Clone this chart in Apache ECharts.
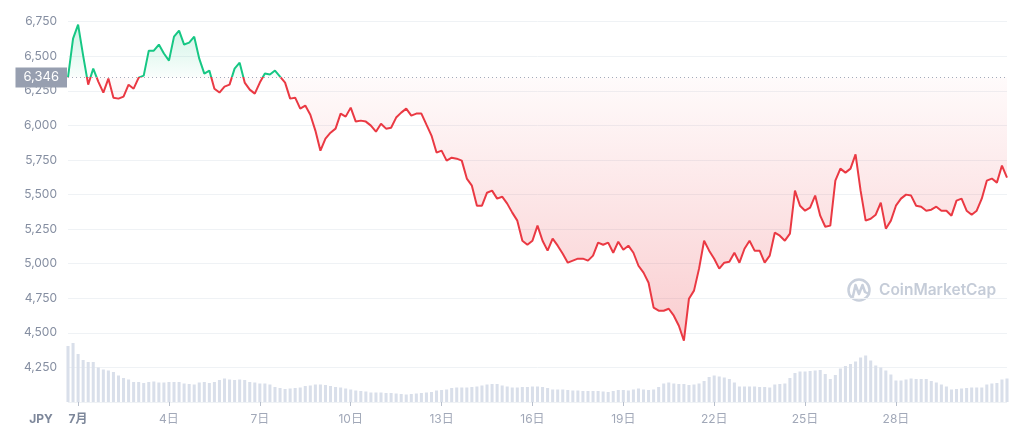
<!DOCTYPE html>
<html><head><meta charset="utf-8">
<script src="https://cdn.jsdelivr.net/npm/echarts@6/dist/echarts.min.js"></script>
<style>html,body{margin:0;padding:0;background:#fff}#c{width:1024px;height:427px}</style>
</head><body><div id="c"></div>
<script>
// ---- data ----
const BASE_PRICE = 6346;
const START_UTC = Date.UTC(2021, 5, 30, 16); // 2021-06-30 16:00
const STEP_HOURS = 4;
const TICK_DAYS = [1, 4, 7, 10, 13, 16, 19, 22, 25, 28];
const MONTH_LABEL = '7月';
const DAY_SUFFIX = '日';
const CURRENCY = 'JPY';

const PRICES = [
  6346, 6627, 6728, 6504, 6294, 6410, 6316, 6237, 6338, 6200,
  6193, 6208, 6294, 6265, 6345, 6359, 6540, 6540, 6584, 6519,
  6468, 6641, 6685, 6584, 6598, 6641, 6482, 6374, 6396, 6265,
  6237, 6280, 6294, 6410, 6453, 6309, 6258, 6229, 6309, 6374,
  6367, 6396, 6352, 6309, 6193, 6200, 6121, 6143, 6077, 5962,
  5817, 5904, 5947, 5976, 6085, 6063, 6128, 6027, 6034, 6027,
  5998, 5954, 6012, 5976, 5983, 6056, 6092, 6121, 6070, 6085,
  6085, 6005, 5926, 5803, 5817, 5745, 5766, 5759, 5745, 5615,
  5564, 5419, 5419, 5513, 5528, 5470, 5484, 5434, 5369, 5311,
  5166, 5137, 5166, 5275, 5166, 5094, 5181, 5130, 5072, 5007,
  5022, 5036, 5036, 5022, 5058, 5152, 5137, 5152, 5079, 5159,
  5101, 5130, 5079, 4985, 4935, 4862, 4682, 4660, 4660,
  4674, 4624, 4551, 4443, 4747, 4805, 4964, 5166, 5094, 5036,
  4964, 5007, 5014, 5079, 5007, 5108, 5166, 5094, 5094, 5007,
  5058, 5224, 5202, 5166, 5217, 5528, 5419, 5383, 5405, 5492,
  5347, 5267, 5275, 5600, 5687, 5658, 5687, 5790, 5528, 5311,
  5325, 5354, 5441, 5253, 5311, 5419, 5470, 5499, 5492, 5419,
  5412, 5383, 5390, 5412, 5383, 5383, 5347, 5456, 5470, 5383,
  5354, 5383, 5470, 5600, 5615, 5586, 5709, 5622
];

// volume (billions JPY, estimated)
const VOLUMES = [
  5.6, 5.9, 4.8, 4.2, 4.0, 4.0, 3.45, 3.25, 3.15, 3.0,
  2.65, 2.4, 2.25, 2.0, 2.0, 1.9, 2.0, 2.05, 1.95, 1.95,
  2.0, 2.0, 2.0, 1.85, 1.8, 1.75, 1.95, 2.0, 1.9, 2.0,
  2.2, 2.35, 2.25, 2.2, 2.25, 2.2, 2.0, 1.95, 1.85, 1.85,
  1.75, 1.5, 1.4, 1.3, 1.35, 1.4, 1.45, 1.6, 1.65, 1.75,
  1.75, 1.7, 1.6, 1.5, 1.45, 1.35, 1.25, 1.15, 1.1, 1.05,
  0.95, 0.95, 0.95, 0.9, 0.9, 0.85, 0.8, 0.75, 0.8, 0.85,
  0.9, 0.95, 1.0, 1.15, 1.2, 1.25, 1.4, 1.45, 1.45, 1.45,
  1.5, 1.55, 1.65, 1.75, 1.8, 1.8, 1.65, 1.55, 1.45, 1.45,
  1.5, 1.5, 1.55, 1.55, 1.5, 1.4, 1.25, 1.25, 1.25, 1.2,
  1.15, 1.15, 1.1, 1.1, 1.1, 1.1, 1.05, 1.0, 1.1, 1.2,
  1.2, 1.15, 1.25, 1.35, 1.25, 1.2, 1.25, 1.5, 1.85, 1.95,
  1.85, 1.8, 1.8, 1.7, 1.75, 1.85, 2.1, 2.5, 2.65, 2.55,
  2.45, 2.3, 1.95, 1.55, 1.55, 1.55, 1.55, 1.5, 1.5, 1.45,
  1.75, 1.8, 1.85, 2.4, 2.9, 3.05, 3.05, 3.1, 3.15, 3.2,
  2.8, 2.3, 2.7, 3.35, 3.6, 3.8, 4.05, 4.45, 4.65, 4.15,
  3.65, 3.45, 3.15, 2.75, 2.15, 2.15, 2.25, 2.35, 2.3, 2.3,
  2.3, 2.1, 1.95, 1.75, 1.55, 1.25, 1.3, 1.35, 1.4, 1.45,
  1.45, 1.45, 1.75, 1.85, 1.9, 2.25, 2.35
];

const PRICE_AXIS = { min: 4000, max: 7000, interval: 250 };
const VOLUME_AXIS_MAX = 41.5;

// ---- build ----
const CATEGORIES = PRICES.map((_, i) =>
  new Date(START_UTC + i * STEP_HOURS * 3600e3).toISOString().slice(0, 13));

function parseCat(s) {
  return { month: +s.slice(5, 7), day: +s.slice(8, 10), hour: +s.slice(11, 13) };
}
function isTick(idx, val) {
  const d = parseCat(val);
  return d.month === 7 && d.hour === 0 && TICK_DAYS.indexOf(d.day) >= 0;
}

const GREEN = '#16c784', RED = '#ea3943';
const maxP = Math.max(...PRICES), minP = Math.min(...PRICES);
const FONT = 'Inter, "Noto Sans CJK JP", sans-serif';

const chart = echarts.init(document.getElementById('c'), null, { renderer: 'canvas' });
chart.setOption({
  animation: false,
  backgroundColor: '#ffffff',
  grid: { left: 68, right: 17, top: -13, bottom: 25, containLabel: false, outerBoundsMode: 'none' },
  xAxis: {
    type: 'category',
    data: CATEGORIES,
    boundaryGap: false,
    axisLine: { show: false },
    axisTick: { show: true, interval: isTick, length: 4, lineStyle: { color: '#b8bfcc' } },
    axisLabel: {
      interval: isTick,
      margin: 11,
      fontSize: 12,
      fontFamily: FONT,
      color: '#a1a8b8',
      formatter: function (val) {
        const d = parseCat(val);
        return d.day === 1 ? '{b|' + MONTH_LABEL + '}' : d.day + DAY_SUFFIX;
      },
      rich: { b: { fontWeight: 'bold', color: '#7d879a', fontSize: 12, fontFamily: FONT } }
    },
    splitLine: { show: false }
  },
  yAxis: [{
    type: 'value',
    min: PRICE_AXIS.min, max: PRICE_AXIS.max, interval: PRICE_AXIS.interval,
    axisLine: { show: false }, axisTick: { show: false },
    axisLabel: {
      showMinLabel: false, showMaxLabel: false, margin: 11, fontSize: 12, fontFamily: FONT, color: '#858ea1',
      formatter: v => v.toLocaleString('en-US')
    },
    splitLine: { lineStyle: { color: '#eff2f5', width: 1 } }
  }, {
    type: 'value', min: 0, max: VOLUME_AXIS_MAX, show: false,
    splitLine: { show: false }
  }],
  series: [{
    type: 'bar',
    yAxisIndex: 1,
    data: VOLUMES,
    barWidth: '60%',
    itemStyle: { color: '#d9dfea' },
    silent: true,
    z: 1
  }, {
    id: 'price',
    type: 'line',
    data: PRICES,
    showSymbol: false,
    symbol: 'none',
    lineStyle: { width: 2, color: RED },
    areaStyle: { origin: BASE_PRICE, color: 'rgba(234,57,67,0.1)' },
    markLine: {
      silent: true,
      symbol: ['none', 'none'],
      lineStyle: { type: [1, 3], color: '#a3abba', width: 1 },
      label: {
        show: true, position: 'start', distance: 1,
        formatter: BASE_PRICE.toLocaleString('en-US'),
        color: '#ffffff', backgroundColor: '#979fb0',
        padding: [4, 8, 3, 8], fontSize: 13, fontFamily: FONT
      },
      data: [{ yAxis: BASE_PRICE }]
    },
    z: 3
  }],
  graphic: [
    {
      type: 'text', x: 41, y: 419, z: 5,
      style: { text: CURRENCY, fill: '#7d879a', fontSize: 12, fontWeight: 'bold', fontFamily: FONT,
               align: 'center', verticalAlign: 'middle' }
    },
    {
      type: 'circle', z: 0,
      shape: { cx: 859, cy: 290, r: 10.5 },
      style: { fill: 'none', stroke: '#c9d0dc', lineWidth: 2.5 }
    },
    {
      type: 'polyline', z: 0,
      shape: { points: [[853, 296], [855.5, 285], [859, 294], [862.5, 285], [865, 292], [869, 294]] },
      style: { fill: 'none', stroke: '#c9d0dc', lineWidth: 2.5, lineJoin: 'round', lineCap: 'round' }
    },
    {
      type: 'text', x: 879, y: 290, z: 0,
      style: { text: 'CoinMarketCap', fill: '#c5ccd8', fontSize: 15.5, fontWeight: 600, fontFamily: FONT,
               align: 'left', verticalAlign: 'middle' }
    }
  ]
});

// Colour split at the baseline, using the axis's own pixel conversion
const yBase = chart.convertToPixel({ yAxisIndex: 0 }, BASE_PRICE);
const yTop = chart.convertToPixel({ yAxisIndex: 0 }, maxP);
const yBot = chart.convertToPixel({ yAxisIndex: 0 }, minP);
const off = (yBase - yTop) / (yBot - yTop);
chart.setOption({
  series: [{
    id: 'price',
    lineStyle: {
      color: {
        type: 'linear', global: true, x: 0, y: yBase - 0.5, x2: 0, y2: yBase + 0.5,
        colorStops: [
          { offset: 0, color: GREEN }, { offset: 0.5, color: GREEN },
          { offset: 0.5, color: RED }, { offset: 1, color: RED }
        ]
      }
    },
    areaStyle: {
      origin: BASE_PRICE,
      color: {
        type: 'linear', global: true, x: 0, y: yTop, x2: 0, y2: yBot,
        colorStops: [
          { offset: 0, color: 'rgba(22,199,132,0.3)' },
          { offset: off, color: 'rgba(22,199,132,0.03)' },
          { offset: off, color: 'rgba(234,57,67,0.03)' },
          { offset: 1, color: 'rgba(234,57,67,0.36)' }
        ]
      }
    }
  }]
});
</script>
</body></html>
